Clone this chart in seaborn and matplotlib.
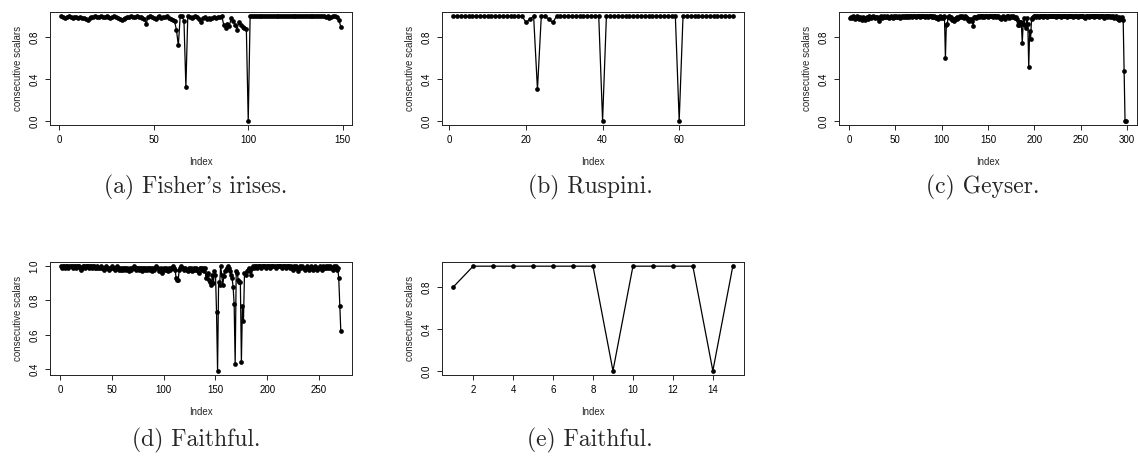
import numpy as np
import matplotlib
matplotlib.use("Agg")
import matplotlib.pyplot as plt
import seaborn as sns

# consecutive scalars per data set
iris_vals = [
    1.00, 0.99, 0.98, 0.99, 1.00, 0.99, 0.98, 0.99, 0.99, 0.98,
    0.99, 0.98, 0.98, 0.97, 0.96, 0.98, 0.99, 0.99, 1.00, 0.99,
    0.99, 1.00, 0.99, 0.99, 1.00, 0.99, 0.98, 0.99, 1.00, 0.99,
    0.98, 0.97, 0.96, 0.97, 0.98, 0.99, 0.99, 1.00, 0.99, 0.99,
    1.00, 0.99, 0.99, 0.98, 0.97, 0.93, 0.99, 1.00, 0.99, 0.98,
    0.97, 0.99, 1.00, 0.98, 0.99, 0.99, 1.00, 0.98, 0.97, 0.96,
    0.95, 0.87, 0.72, 1.00, 1.00, 0.95, 0.32, 1.00, 0.99, 0.98,
    0.99, 1.00, 0.99, 0.97, 0.94, 0.98, 0.99, 0.97, 0.98, 0.97,
    0.98, 0.99, 0.98, 0.99, 0.99, 1.00, 0.92, 0.89, 0.93, 0.91,
    0.98, 0.95, 0.92, 0.87, 0.94, 0.92, 0.90, 0.89, 0.88, 0.00,
    1.00, 1.00, 1.00, 1.00, 1.00, 1.00, 1.00, 1.00, 1.00, 1.00,
    1.00, 1.00, 1.00, 1.00, 1.00, 1.00, 1.00, 1.00, 1.00, 1.00,
    1.00, 1.00, 1.00, 1.00, 1.00, 1.00, 1.00, 1.00, 1.00, 1.00,
    1.00, 1.00, 1.00, 1.00, 1.00, 1.00, 1.00, 1.00, 1.00, 1.00,
    0.99, 1.00, 0.98, 0.99, 1.00, 1.00, 0.99, 0.96, 0.90,
]

ruspini_vals = [
    1, 1, 1, 1, 1, 1, 1, 1, 1, 1,
    1, 1, 1, 1, 1, 1, 1, 1, 1, 0.94,
    0.97, 1, 0.30, 1, 1, 0.97, 0.94, 1, 1, 1,
    1, 1, 1, 1, 1, 1, 1, 1, 1, 0.00,
    1, 1, 1, 1, 1, 1, 1, 1, 1, 1,
    1, 1, 1, 1, 1, 1, 1, 1, 1, 0.00,
    1, 1, 1, 1, 1, 1, 1, 1, 1, 1,
    1, 1, 1, 1,
]

geyser_vals = [
    0.98, 0.99, 0.98, 1.00, 0.99, 0.97, 0.99, 1.00, 0.98, 0.99, 0.97, 0.99, 0.98, 0.96, 0.99, 0.97, 0.96, 0.98, 0.99, 0.97,
    0.99, 1.00, 0.99, 0.98, 0.99, 1.00, 0.99, 0.98, 0.99, 0.99, 0.98, 0.95, 0.99, 1.00, 0.99, 0.98, 0.99, 1.00, 0.99, 0.99,
    1.00, 0.99, 0.98, 0.99, 1.00, 0.99, 0.98, 0.99, 1.00, 0.99, 1.00, 0.99, 0.99, 1.00, 0.98, 0.99, 1.00, 0.99, 1.00, 0.99,
    1.00, 1.00, 0.99, 1.00, 0.99, 1.00, 1.00, 0.99, 1.00, 1.00, 1.00, 0.99, 1.00, 1.00, 1.00, 1.00, 0.99, 1.00, 1.00, 1.00,
    1.00, 0.99, 1.00, 1.00, 0.99, 1.00, 1.00, 1.00, 0.99, 1.00, 0.99, 1.00, 0.99, 0.98, 0.99, 0.97, 0.99, 1.00, 0.98, 0.99,
    0.98, 1.00, 0.99, 0.60, 0.92, 0.93, 0.99, 1.00, 0.98, 0.99, 0.96, 0.97, 0.95, 0.97, 0.98, 0.99, 0.97, 0.98, 0.99, 1.00,
    0.99, 1.00, 0.99, 0.98, 1.00, 0.99, 0.98, 0.96, 0.97, 0.95, 0.96, 0.97, 0.95, 0.91, 0.99, 0.99, 0.98, 0.99, 1.00, 0.99,
    1.00, 1.00, 0.99, 1.00, 1.00, 0.99, 1.00, 1.00, 1.00, 0.99, 1.00, 1.00, 1.00, 1.00, 0.99, 1.00, 1.00, 1.00, 0.99, 1.00,
    1.00, 0.99, 0.98, 0.97, 0.99, 1.00, 0.98, 0.97, 0.99, 1.00, 0.99, 1.00, 0.98, 0.99, 1.00, 0.99, 1.00, 0.99, 0.98, 0.99,
    0.97, 0.92, 0.94, 0.92, 0.94, 0.94, 0.74, 0.93, 0.98, 0.92, 0.89, 0.98, 0.93, 0.51, 0.86, 0.78, 0.97, 0.98, 0.99, 1.00,
    1.00, 0.99, 1.00, 1.00, 0.99, 1.00, 1.00, 1.00, 0.99, 1.00, 1.00, 1.00, 1.00, 0.99, 1.00, 1.00, 1.00, 1.00, 1.00, 1.00,
    1.00, 1.00, 0.99, 1.00, 1.00, 1.00, 1.00, 1.00, 0.99, 1.00, 1.00, 1.00, 1.00, 1.00, 0.99, 1.00, 1.00, 1.00, 1.00, 1.00,
    1.00, 0.99, 1.00, 1.00, 1.00, 1.00, 0.99, 1.00, 1.00, 1.00, 1.00, 1.00, 1.00, 0.99, 0.98, 1.00, 1.00, 1.00, 0.99, 1.00,
    1.00, 1.00, 1.00, 1.00, 0.99, 1.00, 1.00, 1.00, 1.00, 0.99, 1.00, 1.00, 1.00, 1.00, 0.98, 1.00, 1.00, 0.99, 1.00, 1.00,
    1.00, 0.99, 1.00, 0.99, 1.00, 0.98, 0.99, 1.00, 0.98, 0.97, 0.99, 0.96, 0.98, 0.97, 0.99, 0.96, 0.48, 0.00, 0.00,
]

faithful_vals = [
    1.00, 0.99, 1.00, 1.00, 0.99, 1.00, 1.00, 0.99, 1.00, 1.00, 1.00, 0.99, 1.00, 1.00, 0.99, 1.00, 1.00, 1.00, 0.99, 0.98,
    0.99, 1.00, 1.00, 0.99, 1.00, 1.00, 1.00, 0.99, 1.00, 1.00, 0.99, 1.00, 1.00, 0.99, 0.99, 1.00, 0.99, 0.99, 1.00, 0.99,
    0.99, 0.98, 0.99, 1.00, 0.99, 0.99, 0.98, 0.99, 0.99, 1.00, 0.99, 0.99, 0.98, 0.99, 1.00, 0.99, 0.98, 0.99, 0.98, 0.99,
    0.98, 0.99, 0.99, 0.98, 0.99, 0.97, 0.99, 0.98, 0.99, 0.99, 1.00, 0.99, 0.98, 0.99, 0.99, 0.98, 0.99, 0.99, 0.97, 0.99,
    0.99, 0.98, 0.99, 0.98, 0.99, 0.99, 0.98, 0.99, 0.97, 0.99, 0.98, 0.99, 1.00, 0.99, 0.97, 0.98, 0.99, 0.96, 0.98, 0.99,
    0.98, 0.99, 0.98, 0.97, 0.99, 0.98, 0.99, 0.99, 1.00, 0.99, 0.98, 0.93, 0.92, 0.92, 0.98, 0.99, 1.00, 0.99, 0.99, 0.98,
    0.99, 0.98, 0.97, 0.99, 0.98, 0.99, 0.97, 0.98, 0.99, 0.98, 0.99, 0.98, 0.97, 0.96, 0.99, 0.99, 0.98, 0.99, 0.97, 0.99,
    0.93, 0.95, 0.96, 0.92, 0.91, 0.89, 0.95, 0.90, 0.97, 0.95, 0.73, 0.39, 0.91, 0.89, 1.00, 0.95, 0.89, 0.94, 0.97, 0.98,
    0.99, 1.00, 0.99, 0.97, 0.95, 0.93, 0.88, 0.78, 0.43, 0.97, 0.96, 0.92, 0.91, 0.91, 0.44, 0.77, 0.68, 0.96, 0.95, 0.97,
    0.98, 0.99, 0.97, 0.95, 0.99, 1.00, 0.99, 1.00, 1.00, 0.99, 1.00, 1.00, 1.00, 0.99, 1.00, 1.00, 1.00, 1.00, 0.99, 1.00,
    1.00, 1.00, 0.99, 1.00, 1.00, 1.00, 1.00, 0.99, 1.00, 1.00, 1.00, 1.00, 1.00, 0.99, 1.00, 1.00, 1.00, 0.99, 1.00, 1.00,
    1.00, 0.99, 1.00, 0.99, 0.98, 1.00, 0.99, 1.00, 0.99, 0.97, 0.99, 1.00, 0.99, 1.00, 0.99, 0.98, 0.99, 1.00, 0.99, 0.98,
    0.99, 1.00, 0.99, 0.98, 0.99, 1.00, 0.99, 0.98, 0.99, 0.99, 1.00, 0.99, 0.98, 1.00, 0.99, 0.99, 1.00, 0.99, 1.00, 0.99,
    1.00, 0.99, 0.98, 1.00, 0.99, 1.00, 0.98, 0.99, 0.93, 0.77, 0.62,
]

faithful_small_vals = [0.8, 1, 1, 1, 1, 1, 1, 1, 0, 1, 1, 1, 1, 0, 1]

captions = ["(a) Fisher's irises.", "(b) Ruspini.", "(c) Geyser.",
            "(d) Faithful.", "(e) Faithful."]

xticks = [[0, 50, 100, 150], [0, 20, 40, 60], [0, 50, 100, 150, 200, 250, 300],
          [0, 50, 100, 150, 200, 250], [2, 4, 6, 8, 10, 12, 14]]
yticks = [[0.0, 0.4, 0.8], [0.0, 0.4, 0.8], [0.0, 0.4, 0.8],
          [0.4, 0.6, 0.8, 1.0], [0.0, 0.4, 0.8]]

series = [iris_vals, ruspini_vals, geyser_vals, faithful_vals, faithful_small_vals]

# ------------------------------------------
# figure layout (pixel boxes -> figure fractions)
# ------------------------------------------
W, H = 1138, 467
sns.set_theme(style="ticks")
plt.rcParams["font.family"] = ["Liberation Sans", "DejaVu Sans"]

fig = plt.figure(figsize=(W / 100, H / 100), dpi=100)

# left, top, right, bottom in pixels
boxes = [(50, 12, 352, 125), (442, 12, 744, 125), (839, 12, 1137, 125),
         (50, 262, 352, 375), (442, 262, 744, 375)]
caption_pos = [(196, 187), (590, 187), (983, 187), (196, 440), (590, 440)]

for k, vals in enumerate(series):
    l, t, r, b = boxes[k]
    ax = fig.add_axes([l / W, 1 - b / H, (r - l) / W, (b - t) / H])
    idx = np.arange(1, len(vals) + 1)

    sns.lineplot(x=idx, y=vals, ax=ax, color="black", linewidth=0.9,
                 marker="o", markersize=3.4, markeredgewidth=0)

    ax.margins(x=0.04, y=0.04)
    ax.set_xticks(xticks[k])
    ax.set_yticks(yticks[k])
    ax.set_yticklabels([f"{v:.1f}" for v in yticks[k]], rotation=90, va="center")
    ax.set_xlabel("Index", fontsize=7, labelpad=8)
    ax.set_ylabel("consecutive scalars", fontsize=7, labelpad=5)
    ax.tick_params(direction="out", length=3.5, width=0.6, labelsize=7,
                   pad=4, colors="black")
    for sp in ax.spines.values():
        sp.set_linewidth(0.7)
        sp.set_color("#222222")

    cx, cy = caption_pos[k]
    fig.text(cx / W, 1 - cy / H, captions[k], ha="center", va="center",
             fontsize=17, family=["cmr10", "DejaVu Serif"])

plt.savefig("out.png", dpi=100)
